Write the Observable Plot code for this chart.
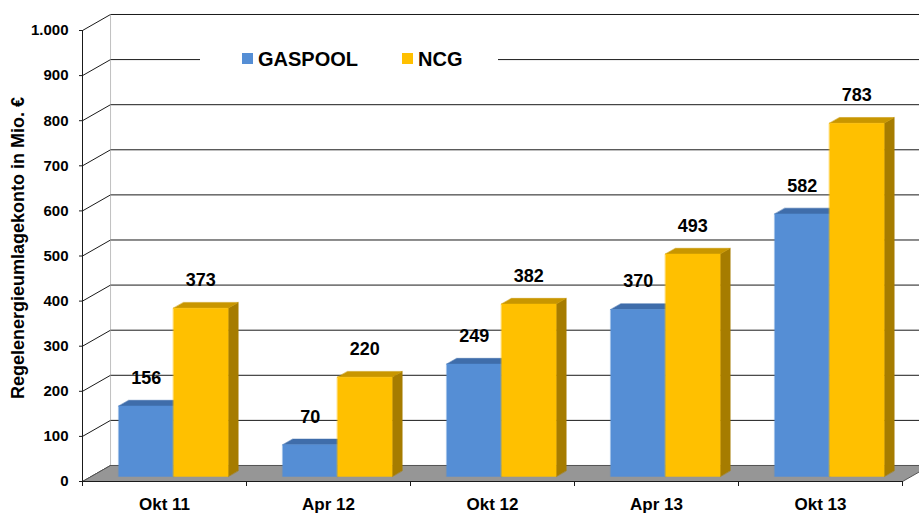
<!DOCTYPE html>
<html>
<head>
<meta charset="utf-8">
<script src="https://cdn.jsdelivr.net/npm/d3@7"></script>
<script src="https://cdn.jsdelivr.net/npm/@observablehq/plot@0.6"></script>
<style>
  html, body { margin: 0; padding: 0; background: #fff; overflow: hidden; }
  #wrap { position: relative; width: 919px; height: 513px; font-family: "Liberation Sans", Arial, sans-serif; }
  #wrap svg { overflow: hidden; }
  #legend { position: absolute; left: 200px; top: 46px; width: 298px; height: 26px; background: #fff;
            font-weight: bold; font-size: 20px; color: #000; }
  .sw { position: absolute; top: 7px; width: 11px; height: 11px; }
  .lt { position: absolute; top: 1px; line-height: 24px; }
</style>
</head>
<body>
<div id="wrap">
  <div id="legend">
    <div class="sw" style="left:42px;background:#558ED5"></div><div class="lt" style="left:58px">GASPOOL</div>
    <div class="sw" style="left:202px;background:#FFC000"></div><div class="lt" style="left:218px">NCG</div>
  </div>
</div>
<script>
const categories = ["Okt 11", "Apr 12", "Okt 12", "Apr 13", "Okt 13"];
const gaspool = [156, 70, 249, 370, 582];
const ncg = [373, 220, 382, 493, 783];
const yTicks = [0, 100, 200, 300, 400, 500, 600, 700, 800, 900, 1000];
const yTickLabels = ["0", "100", "200", "300", "400", "500", "600", "700", "800", "900", "1.000"];
const seriesNames = ["GASPOOL", "NCG"];

// 3D projection: depth z in [0,1] shifts right (category units) and up (value units)
const DX = 0.171, DV = 35.5;
const Z0 = 0.32, Z1 = 0.68;
const P = (x, v, z) => ({x: x + z * DX, y: v + z * DV});
const n = categories.length;

const series = [
  {name: seriesNames[0], values: gaspool, off: 1/6, front: "#558ED5", top: "#3F6DAA", side: "#35609A"},
  {name: seriesNames[1], values: ncg, off: 1/2, front: "#FFC000", top: "#C89600", side: "#A67C00"}
];
const bw = 1/3;

const faces = [];
series.forEach((s, si) => {
  s.values.forEach((v, i) => {
    const xa = i + s.off, xb = xa + bw;
    const id = s.name + i;
    [[xa,0,Z0],[xb,0,Z0],[xb,v,Z0],[xa,v,Z0]].forEach(p => faces.push({id: id + "f", kind: "front", s: si, ...P(...p)}));
    [[xa,v,Z0],[xb,v,Z0],[xb,v,Z1],[xa,v,Z1]].forEach(p => faces.push({id: id + "t", kind: "top", s: si, ...P(...p)}));
    [[xb,0,Z0],[xb,v,Z0],[xb,v,Z1],[xb,0,Z1]].forEach(p => faces.push({id: id + "s", kind: "side", s: si, ...P(...p)}));
  });
});
const floor = [[0,0,0],[n,0,0],[n,0,1],[0,0,1],[0,0,0]].map(p => P(...p));

const labels = [];
series.forEach((s, si) => s.values.forEach((v, i) => {
  const c = P(i + s.off + bw / 2, v, Z0);
  labels.push({x: c.x, y: c.y, text: String(v)});
}));

const faceMarks = [];
series.forEach((s, si) => {
  ["side", "top", "front"].forEach(k => {
    faceMarks.push(Plot.line(faces.filter(d => d.s === si && d.kind === k), {
      x: "x", y: "y", z: "id", fill: s[k], stroke: s[k], strokeWidth: 0.5, curve: "linear-closed"
    }));
  });
});

const lineColor = "#1a1a1a";
const chart = Plot.plot({
  width: 919, height: 513,
  marginLeft: 82, marginRight: 17, marginTop: 30, marginBottom: 32,
  x: {type: "linear", domain: [0, n], axis: null},
  y: {type: "linear", domain: [0, 1000], axis: null},
  style: {fontFamily: "'Liberation Sans', Arial, sans-serif", background: "#fff"},
  marks: [
    // back wall gridlines
    Plot.ruleY(yTicks, {y: d => d + DV, x1: DX, x2: n + DX, stroke: lineColor, strokeWidth: 1}),
    // left wall back edge
    Plot.ruleX([DX], {y1: DV, y2: 1000 + DV, stroke: "#c0c0c0", strokeWidth: 1}),
    // side wall slanted lines
    Plot.link(yTicks, {x1: 0, y1: d => d, x2: DX, y2: d => d + DV, stroke: lineColor, strokeWidth: 1}),
    // floor
    Plot.line(floor, {x: "x", y: "y", fill: "#969696", stroke: "#555", strokeWidth: 1}),
    // front axes
    Plot.ruleX([0], {y1: 0, y2: 1000, stroke: lineColor, strokeWidth: 1}),
    Plot.ruleY([0], {x1: 0, x2: n, stroke: lineColor, strokeWidth: 1}),
    ...faceMarks,
    // value labels
    Plot.text(labels, {x: "x", y: "y", text: "text", dy: -28, fontSize: 18, fontWeight: "bold", fill: "#000"}),
    // x axis ticks and labels
    Plot.axisX({ticks: d3.range(n + 1), tickSize: 5, tickFormat: () => "", stroke: lineColor, label: null}),
    Plot.text(categories, {x: (d, i) => i + 0.5, y: 0, text: d => d, dy: 23, fontSize: 17, fontWeight: "bold", fill: "#000"}),
    // y axis
    Plot.axisY({ticks: yTicks, tickSize: 3, tickPadding: 11, tickFormat: d => yTickLabels[yTicks.indexOf(d)],
                fontSize: 15, fontWeight: "bold", stroke: lineColor, label: null}),
    Plot.text(["Regelenergieumlagekonto in Mio. €"], {frameAnchor: "left", textAnchor: "middle", lineAnchor: "middle",
                text: d => d, dx: -64, dy: -8, rotate: -90,
                fontSize: 18, fontWeight: "bold", fill: "#000"})
  ]
});
document.getElementById("wrap").prepend(chart);
</script>
</body>
</html>
